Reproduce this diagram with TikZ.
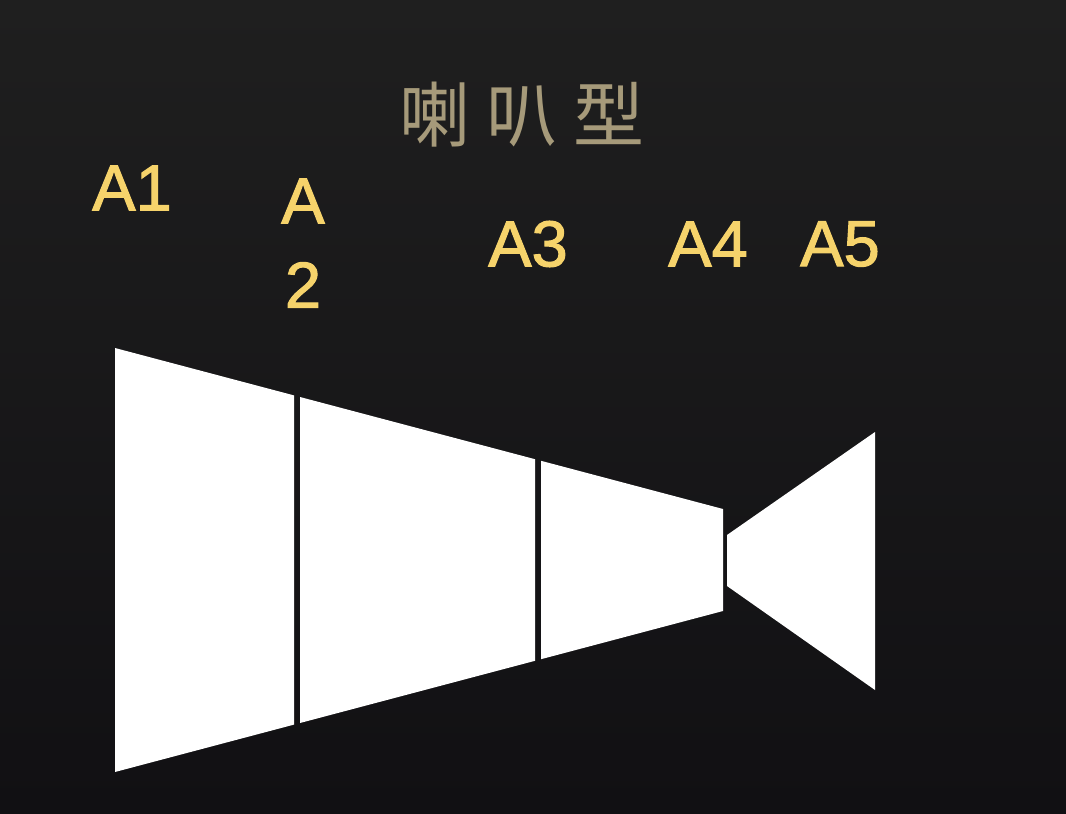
\documentclass[tikz,border=0pt]{standalone}
\usepackage{fontspec}
\setmainfont{Liberation Sans}
\newfontfamily\labfont{Liberation Sans}[RawFeature={embolden=1.6}]
\newfontfamily\cjk{Noto Sans CJK SC}
\definecolor{lbl}{HTML}{F6D36B}
\definecolor{ttl}{HTML}{A69A7A}
\definecolor{bgdark}{HTML}{111013}
\definecolor{bglight}{HTML}{1F1F1F}
\begin{document}
\begin{tikzpicture}[x=1pt,y=-1pt,
  lab/.style={text=lbl,inner sep=0pt,font=\labfont\fontsize{65}{70}\selectfont},
  panel/.style={fill=white,draw=none}]
\useasboundingbox (0,0) rectangle (1066,814);
\shade[bottom color=bgdark, top color=bglight] (0,0) rectangle (1066,814);
% title
\node[text=ttl,inner sep=0pt,font=\cjk\fontsize{71}{80}\selectfont] (title) at (522,115) {喇 叭 型};
% labels
\node[lab] (a1) at (132,188) {A1};
\node[lab] (a2a) at (303,201) {A};
\node[lab] (a2b) at (303,285) {2};
\node[lab] (a3) at (528,244) {A3};
\node[lab] (a4) at (708,244) {A4};
\node[lab] (a5) at (840,244) {A5};
% panels
\fill[panel] (115,348) -- (294,395.4) -- (294,724.6) -- (115,772) -- cycle;
\fill[panel] (300,397.0) -- (535,459.2) -- (535,660.8) -- (300,723.0) -- cycle;
\fill[panel] (541,460.8) -- (723,509.0) -- (723,611.0) -- (541,659.2) -- cycle;
\fill[panel] (727,535) -- (875,432) -- (875,690) -- (727,586) -- cycle;
\end{tikzpicture}
\end{document}
